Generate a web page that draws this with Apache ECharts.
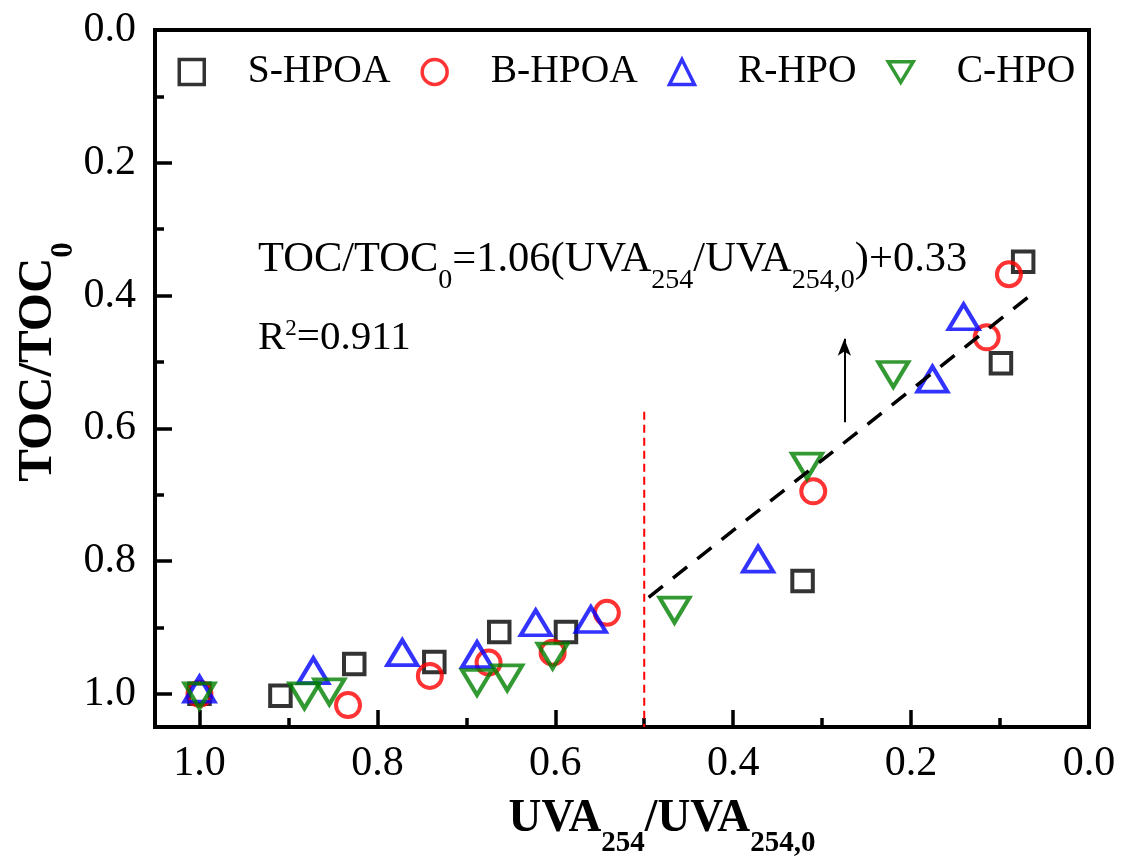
<!DOCTYPE html>
<html>
<head>
<meta charset="utf-8">
<script src="https://cdn.jsdelivr.net/npm/echarts@6/dist/echarts.min.js"></script>
<style>
  html, body { margin: 0; padding: 0; background: #fff; }
  #chart { width: 1122px; height: 856px; }
</style>
</head>
<body>
<div id="chart"></div>
<script>
// Relative TOC removal versus relative UVA254 removal for four hydrophobic fractions
const seriesNames = ['S-HPOA', 'B-HPOA', 'R-HPO', 'C-HPO'];

const sHpoaX = [1.0, 0.909, 0.826, 0.736, 0.663, 0.588, 0.322, 0.099, 0.074];
const sHpoaY = [1.0, 1.003, 0.955, 0.952, 0.907, 0.907, 0.830, 0.502, 0.349];

const bHpoaX = [1.0, 0.833, 0.741, 0.675, 0.603, 0.542, 0.310, 0.115, 0.090];
const bHpoaY = [1.0, 1.017, 0.973, 0.953, 0.938, 0.878, 0.695, 0.463, 0.368];

const rHpoX = [1.0, 0.872, 0.772, 0.688, 0.622, 0.560, 0.372, 0.176, 0.141];
const rHpoY = [0.993, 0.965, 0.938, 0.941, 0.893, 0.888, 0.797, 0.526, 0.432];

const cHpoX = [1.0, 0.882, 0.854, 0.688, 0.654, 0.603, 0.466, 0.317, 0.220];
const cHpoY = [1.003, 1.003, 0.997, 0.983, 0.976, 0.943, 0.874, 0.657, 0.519];

// Linear fit of the fast-removal region
const fitSlope = 1.06;
const fitIntercept = 0.33;
const fitR2 = 0.911;
const fitXRange = [0.495, 0.062];

// Boundary between the two regions, and the trend arrow
const boundaryX = 0.5;
const boundaryYRange = [0.575, 1.05];
const arrowX = 0.275;
const arrowYRange = [0.591, 0.465];

const xTickLabels = ['0.0', '0.2', '0.4', '0.6', '0.8', '1.0'];
const yTickLabels = ['0.0', '0.2', '0.4', '0.6', '0.8', '1.0'];

const serif = "'Liberation Serif', 'Times New Roman', Times, serif";
const zip = (xs, ys) => xs.map((x, i) => [x, ys[i]]);
const fitPoints = fitXRange.map(x => [x, fitSlope * x + fitIntercept]);

const tickText = (labels) => (v) => {
  const s = v.toFixed(1);
  return Math.abs(v * 5 - Math.round(v * 5)) < 1e-6 && labels.includes(s) ? s : '';
};

function hollow(color) {
  return { color: 'rgba(0,0,0,0)', borderColor: color, borderWidth: 4 };
}

const axisCommon = {
  type: 'value',
  min: 0,
  max: 1.05,
  interval: 0.2,
  inverse: true,
  splitLine: { show: false },
  axisLine: { show: true, onZero: false, lineStyle: { color: '#000', width: 4 } },
  axisTick: { show: true, inside: true, length: 17, lineStyle: { color: '#000', width: 3.5 } },
  minorTick: { show: true, splitNumber: 2, length: 9, lineStyle: { color: '#000', width: 3.5 } },
  minorSplitLine: { show: false }
};

const chart = echarts.init(document.getElementById('chart'), null, { renderer: 'canvas' });

chart.setOption({
  animation: false,
  backgroundColor: '#fff',
  grid: {
    left: 155, right: 33, top: 30, bottom: 129,
    show: true, borderColor: '#000', borderWidth: 4, backgroundColor: 'rgba(0,0,0,0)'
  },
  xAxis: Object.assign({}, axisCommon, {
    position: 'bottom',
    axisLabel: { fontSize: 42, fontFamily: serif, color: '#000', margin: 16, formatter: tickText(xTickLabels) }
  }),
  yAxis: Object.assign({}, axisCommon, {
    position: 'left',
    axisLabel: { fontSize: 42, fontFamily: serif, color: '#000', margin: 19, formatter: tickText(yTickLabels) }
  }),
  legend: {
    data: seriesNames,
    left: 177.5,
    top: 52,
    padding: 0,
    itemWidth: 25,
    itemHeight: 25,
    itemGap: 30,
    selectedMode: false,
    itemStyle: { borderWidth: 3.5 },
    textStyle: { fontSize: 39.5, fontFamily: serif, color: '#000', padding: [0, 0, 0, 38.5] }
  },
  series: [
    {
      name: 'S-HPOA', type: 'scatter', symbol: 'rect', symbolSize: 20.5,
      itemStyle: hollow('#000000'), data: zip(sHpoaX, sHpoaY), z: 3
    },
    {
      name: 'B-HPOA', type: 'scatter', symbol: 'circle', symbolSize: 24,
      itemStyle: hollow('#ff0000'), data: zip(bHpoaX, bHpoaY), z: 3
    },
    {
      name: 'R-HPO', type: 'scatter', symbol: 'triangle', symbolSize: [30, 25],
      itemStyle: hollow('#0000ff'), data: zip(rHpoX, rHpoY), z: 3
    },
    {
      name: 'C-HPO', type: 'scatter', symbol: 'path://M0,0L20,0L10,16.5Z', symbolSize: [30, 25],
      symbolKeepAspect: false,
      itemStyle: hollow('#008000'), data: zip(cHpoX, cHpoY), z: 3
    },
    {
      name: 'fit', type: 'line', data: fitPoints, symbol: 'none', silent: true, z: 5,
      lineStyle: { color: '#000', width: 3.5, type: [18, 13] }
    },
    {
      name: 'boundary', type: 'line', data: [[boundaryX, boundaryYRange[0]], [boundaryX, boundaryYRange[1]]],
      symbol: 'none', silent: true, z: 2,
      lineStyle: { color: '#ff0000', width: 2, type: [8, 5] }
    },
    {
      name: 'trend', type: 'line', data: [], silent: true, z: 5,
      markLine: {
        silent: true,
        animation: false,
        symbol: ['none', 'arrow'],
        symbolSize: [10, 17],
        label: { show: false },
        lineStyle: { color: '#000', width: 2, type: 'solid' },
        data: [[{ coord: [arrowX, arrowYRange[0]] }, { coord: [arrowX, arrowYRange[1]] }]]
      }
    }
  ],
  graphic: [
    {
      type: 'text', x: 258, y: 236.5, silent: true,
      style: {
        text: '{m|TOC/TOC}{s|0}{m|=' + fitSlope.toFixed(2) + '(UVA}{s|254}{m|/UVA}{s|254,0}{m|)+' + fitIntercept.toFixed(2) + '}',
        align: 'left', verticalAlign: 'top',
        rich: {
          m: { fontSize: 42.5, lineHeight: 47, fontFamily: serif, fill: '#000' },
          s: { fontSize: 28, lineHeight: 28, fontFamily: serif, fill: '#000', padding: [42, 0, 0, 0] }
        }
      }
    },
    {
      type: 'text', x: 258, y: 315, silent: true,
      style: {
        text: '{m|R}{p|2}{m|=' + fitR2.toFixed(3) + '}',
        align: 'left', verticalAlign: 'top',
        rich: {
          m: { fontSize: 41, lineHeight: 46, fontFamily: serif, fill: '#000' },
          p: { fontSize: 23, lineHeight: 22, fontFamily: serif, fill: '#000', padding: [0, 0, 18, 0] }
        }
      }
    },
    {
      type: 'text', x: 662, y: 819, silent: true,
      style: {
        text: '{m|UVA}{s|254}{m|/UVA}{s|254,0}',
        align: 'center', verticalAlign: 'middle',
        rich: {
          m: { fontSize: 45.5, lineHeight: 50, fontWeight: 'bold', fontFamily: serif, fill: '#000' },
          s: { fontSize: 29, lineHeight: 29, fontWeight: 'bold', fontFamily: serif, fill: '#000', padding: [49, 0, 0, 0] }
        }
      }
    },
    {
      type: 'text', x: 38, y: 362, rotation: Math.PI / 2, silent: true,
      style: {
        text: '{m|TOC/TOC}{s|0}',
        align: 'center', verticalAlign: 'middle',
        rich: {
          m: { fontSize: 49, lineHeight: 53, fontWeight: 'bold', fontFamily: serif, fill: '#000' },
          s: { fontSize: 31, lineHeight: 31, fontWeight: 'bold', fontFamily: serif, fill: '#000', padding: [52, 0, 0, 0] }
        }
      }
    }
  ]
});
</script>
</body>
</html>
